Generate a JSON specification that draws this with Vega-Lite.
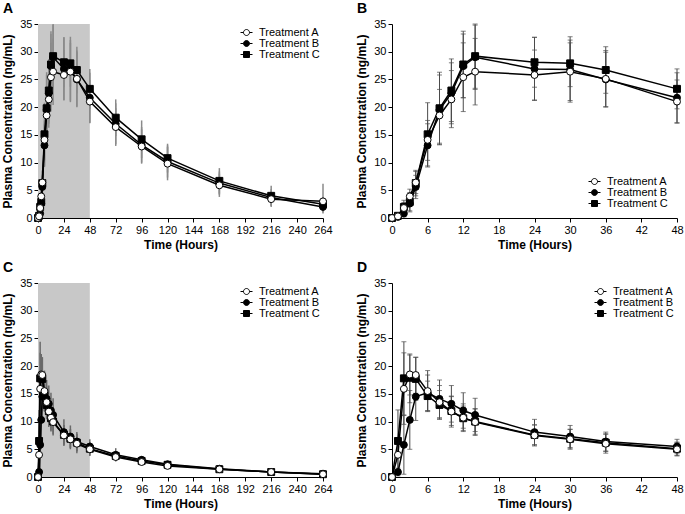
{
  "$schema": "https://vega.github.io/schema/vega-lite/v6.json",
  "padding": {"left": 1, "top": 2, "right": 2, "bottom": 2},
  "datasets": {
    "md": [
      {"trt":"Treatment C","t":0,"c":0,"lo":0,"hi":0},
      {"trt":"Treatment C","t":1,"c":0.4,"lo":0.1,"hi":0.7},
      {"trt":"Treatment C","t":2,"c":2.0,"lo":1.0,"hi":3.2},
      {"trt":"Treatment C","t":3,"c":2.9,"lo":1.3,"hi":4.6},
      {"trt":"Treatment C","t":4,"c":6.3,"lo":4.0,"hi":8.6},
      {"trt":"Treatment C","t":6,"c":15.1,"lo":9.4,"hi":20.8},
      {"trt":"Treatment C","t":8,"c":19.8,"lo":13.3,"hi":26.3},
      {"trt":"Treatment C","t":10,"c":23.0,"lo":17.4,"hi":28.7},
      {"trt":"Treatment C","t":12,"c":27.7,"lo":21.7,"hi":33.7},
      {"trt":"Treatment C","t":14,"c":29.2,"lo":23.4,"hi":35.0},
      {"trt":"Treatment C","t":24,"c":28.1,"lo":23.6,"hi":32.6},
      {"trt":"Treatment C","t":30,"c":27.9,"lo":23.7,"hi":32.1},
      {"trt":"Treatment C","t":36,"c":26.7,"lo":22.5,"hi":30.9},
      {"trt":"Treatment C","t":48,"c":23.3,"lo":19.7,"hi":26.9},
      {"trt":"Treatment C","t":72,"c":18.1,"lo":14.8,"hi":21.4},
      {"trt":"Treatment C","t":96,"c":14.2,"lo":10.8,"hi":17.6},
      {"trt":"Treatment C","t":120,"c":10.8,"lo":8.2,"hi":13.4},
      {"trt":"Treatment C","t":168,"c":6.7,"lo":4.4,"hi":9.0},
      {"trt":"Treatment C","t":216,"c":4.0,"lo":2.2,"hi":5.8},
      {"trt":"Treatment C","t":264,"c":2.5,"lo":1.2,"hi":3.8},
      {"trt":"Treatment B","t":0,"c":0,"lo":0,"hi":0},
      {"trt":"Treatment B","t":1,"c":0.2,"lo":0.0,"hi":0.4},
      {"trt":"Treatment B","t":2,"c":0.8,"lo":0.2,"hi":1.6},
      {"trt":"Treatment B","t":3,"c":2.6,"lo":1.1,"hi":4.1},
      {"trt":"Treatment B","t":4,"c":5.6,"lo":3.5,"hi":7.7},
      {"trt":"Treatment B","t":6,"c":13.1,"lo":9.2,"hi":17.0},
      {"trt":"Treatment B","t":8,"c":19.5,"lo":13.2,"hi":25.8},
      {"trt":"Treatment B","t":10,"c":22.5,"lo":17.0,"hi":28.0},
      {"trt":"Treatment B","t":12,"c":27.4,"lo":21.7,"hi":33.2},
      {"trt":"Treatment B","t":14,"c":29.0,"lo":23.2,"hi":34.8},
      {"trt":"Treatment B","t":24,"c":26.9,"lo":21.2,"hi":32.6},
      {"trt":"Treatment B","t":30,"c":26.8,"lo":20.9,"hi":32.7},
      {"trt":"Treatment B","t":36,"c":25.0,"lo":20.1,"hi":29.9},
      {"trt":"Treatment B","t":48,"c":21.7,"lo":17.2,"hi":26.2},
      {"trt":"Treatment B","t":72,"c":17.0,"lo":13.3,"hi":20.7},
      {"trt":"Treatment B","t":96,"c":13.2,"lo":10.0,"hi":16.4},
      {"trt":"Treatment B","t":120,"c":10.2,"lo":7.3,"hi":13.1},
      {"trt":"Treatment B","t":168,"c":6.3,"lo":4.2,"hi":8.4},
      {"trt":"Treatment B","t":216,"c":3.7,"lo":2.2,"hi":5.2},
      {"trt":"Treatment B","t":264,"c":2.0,"lo":1.0,"hi":3.0},
      {"trt":"Treatment A","t":0,"c":0,"lo":0,"hi":0},
      {"trt":"Treatment A","t":1,"c":0.3,"lo":0.1,"hi":0.5},
      {"trt":"Treatment A","t":2,"c":1.8,"lo":1.0,"hi":2.8},
      {"trt":"Treatment A","t":3,"c":3.9,"lo":2.6,"hi":5.2},
      {"trt":"Treatment A","t":4,"c":6.4,"lo":4.4,"hi":8.4},
      {"trt":"Treatment A","t":6,"c":14.1,"lo":10.4,"hi":17.6},
      {"trt":"Treatment A","t":8,"c":18.5,"lo":13.5,"hi":23.2},
      {"trt":"Treatment A","t":10,"c":21.4,"lo":16.3,"hi":26.6},
      {"trt":"Treatment A","t":12,"c":25.4,"lo":19.2,"hi":31.6},
      {"trt":"Treatment A","t":14,"c":26.4,"lo":20.4,"hi":32.4},
      {"trt":"Treatment A","t":24,"c":25.8,"lo":21.3,"hi":30.3},
      {"trt":"Treatment A","t":30,"c":26.4,"lo":21.2,"hi":31.6},
      {"trt":"Treatment A","t":36,"c":25.1,"lo":20.0,"hi":30.2},
      {"trt":"Treatment A","t":48,"c":21.0,"lo":17.1,"hi":24.9},
      {"trt":"Treatment A","t":72,"c":16.4,"lo":13.0,"hi":19.8},
      {"trt":"Treatment A","t":96,"c":12.9,"lo":9.8,"hi":16.0},
      {"trt":"Treatment A","t":120,"c":9.8,"lo":6.8,"hi":12.8},
      {"trt":"Treatment A","t":168,"c":5.9,"lo":3.8,"hi":8.0},
      {"trt":"Treatment A","t":216,"c":3.4,"lo":2.0,"hi":4.8},
      {"trt":"Treatment A","t":264,"c":3.0,"lo":0.8,"hi":6.2}
    ],
    "sd": [
      {"trt":"Treatment C","t":0,"c":0,"lo":0,"hi":0},
      {"trt":"Treatment C","t":1,"c":6.5,"lo":0.9,"hi":12.1},
      {"trt":"Treatment C","t":2,"c":17.8,"lo":11.2,"hi":24.4},
      {"trt":"Treatment C","t":3,"c":17.9,"lo":13.4,"hi":22.0},
      {"trt":"Treatment C","t":4,"c":17.7,"lo":13.8,"hi":21.6},
      {"trt":"Treatment C","t":6,"c":14.6,"lo":11.9,"hi":17.3},
      {"trt":"Treatment C","t":8,"c":13.0,"lo":10.4,"hi":15.6},
      {"trt":"Treatment C","t":10,"c":11.9,"lo":9.3,"hi":14.5},
      {"trt":"Treatment C","t":12,"c":10.6,"lo":8.4,"hi":12.8},
      {"trt":"Treatment C","t":14,"c":10.0,"lo":7.7,"hi":12.3},
      {"trt":"Treatment C","t":24,"c":7.6,"lo":5.8,"hi":9.4},
      {"trt":"Treatment C","t":30,"c":6.9,"lo":5.2,"hi":8.6},
      {"trt":"Treatment C","t":36,"c":6.2,"lo":4.6,"hi":7.8},
      {"trt":"Treatment C","t":48,"c":5.1,"lo":3.9,"hi":6.3},
      {"trt":"Treatment C","t":72,"c":3.8,"lo":3.0,"hi":4.6},
      {"trt":"Treatment C","t":96,"c":2.9,"lo":2.3,"hi":3.5},
      {"trt":"Treatment C","t":120,"c":2.2,"lo":1.7,"hi":2.7},
      {"trt":"Treatment C","t":168,"c":1.4,"lo":1.1,"hi":1.7},
      {"trt":"Treatment C","t":216,"c":0.9,"lo":0.7,"hi":1.1},
      {"trt":"Treatment C","t":264,"c":0.5,"lo":0.4,"hi":0.6},
      {"trt":"Treatment B","t":0,"c":0,"lo":0,"hi":0},
      {"trt":"Treatment B","t":1,"c":0.9,"lo":0.2,"hi":1.6},
      {"trt":"Treatment B","t":2,"c":5.8,"lo":0.5,"hi":11.1},
      {"trt":"Treatment B","t":3,"c":10.3,"lo":5.0,"hi":15.6},
      {"trt":"Treatment B","t":4,"c":14.5,"lo":10.2,"hi":18.8},
      {"trt":"Treatment B","t":6,"c":15.2,"lo":12.0,"hi":18.4},
      {"trt":"Treatment B","t":8,"c":14.1,"lo":10.7,"hi":17.5},
      {"trt":"Treatment B","t":10,"c":13.2,"lo":9.9,"hi":16.5},
      {"trt":"Treatment B","t":12,"c":12.0,"lo":8.8,"hi":15.2},
      {"trt":"Treatment B","t":14,"c":11.2,"lo":8.2,"hi":14.2},
      {"trt":"Treatment B","t":24,"c":8.1,"lo":5.8,"hi":10.4},
      {"trt":"Treatment B","t":30,"c":7.3,"lo":5.3,"hi":9.3},
      {"trt":"Treatment B","t":36,"c":6.4,"lo":4.7,"hi":8.1},
      {"trt":"Treatment B","t":48,"c":5.5,"lo":4.2,"hi":6.8},
      {"trt":"Treatment B","t":72,"c":4.0,"lo":3.2,"hi":5.2},
      {"trt":"Treatment B","t":96,"c":3.1,"lo":2.4,"hi":3.8},
      {"trt":"Treatment B","t":120,"c":2.3,"lo":1.8,"hi":2.8},
      {"trt":"Treatment B","t":168,"c":1.5,"lo":1.1,"hi":1.9},
      {"trt":"Treatment B","t":216,"c":0.9,"lo":0.7,"hi":1.1},
      {"trt":"Treatment B","t":264,"c":0.6,"lo":0.4,"hi":0.8},
      {"trt":"Treatment A","t":0,"c":0,"lo":0,"hi":0},
      {"trt":"Treatment A","t":1,"c":4.0,"lo":1.0,"hi":7.0},
      {"trt":"Treatment A","t":2,"c":15.9,"lo":9.5,"hi":22.4},
      {"trt":"Treatment A","t":3,"c":18.5,"lo":14.8,"hi":22.2},
      {"trt":"Treatment A","t":4,"c":18.4,"lo":15.1,"hi":21.6},
      {"trt":"Treatment A","t":6,"c":15.5,"lo":11.8,"hi":19.2},
      {"trt":"Treatment A","t":8,"c":13.5,"lo":10.5,"hi":16.5},
      {"trt":"Treatment A","t":10,"c":11.8,"lo":9.0,"hi":14.6},
      {"trt":"Treatment A","t":12,"c":10.7,"lo":8.2,"hi":13.2},
      {"trt":"Treatment A","t":14,"c":9.9,"lo":7.5,"hi":12.3},
      {"trt":"Treatment A","t":24,"c":7.5,"lo":5.6,"hi":9.4},
      {"trt":"Treatment A","t":30,"c":6.8,"lo":5.0,"hi":8.6},
      {"trt":"Treatment A","t":36,"c":6.0,"lo":4.3,"hi":7.7},
      {"trt":"Treatment A","t":48,"c":5.0,"lo":3.8,"hi":6.2},
      {"trt":"Treatment A","t":72,"c":3.6,"lo":2.8,"hi":4.4},
      {"trt":"Treatment A","t":96,"c":2.7,"lo":2.1,"hi":3.3},
      {"trt":"Treatment A","t":120,"c":2.0,"lo":1.6,"hi":2.4},
      {"trt":"Treatment A","t":168,"c":1.4,"lo":1.1,"hi":1.7},
      {"trt":"Treatment A","t":216,"c":0.9,"lo":0.7,"hi":1.1},
      {"trt":"Treatment A","t":264,"c":0.5,"lo":0.4,"hi":0.6}
    ]
  },
  "columns": 2,
  "spacing": {"row": 65, "column": 69},
  "bounds": "flush",
  "concat": [
    {
      "title": {"text": "A"},
      "width": 285, "height": 194,
      "data": {"name": "md"},
      "resolve": {"scale": {"shape": "independent", "fill": "independent"}},
      "layer": [
        {"data": {"values": [{}]}, "mark": {"type": "rect", "color": "#c8c8c8"},
         "encoding": {
           "x": {"datum": 0, "type": "quantitative", "scale": {"domain": [0, 264], "nice": false}, "axis": {"title": "Time (Hours)", "values": [0, 24, 48, 72, 96, 120, 144, 168, 192, 216, 240, 264]}},
           "x2": {"datum": 48},
           "y": {"datum": 0, "type": "quantitative", "scale": {"domain": [0, 35], "nice": false}, "axis": {"title": "Plasma Concentration (ng/mL)", "values": [0, 5, 10, 15, 20, 25, 30, 35]}},
           "y2": {"datum": 35}}},
        {"mark": {"type": "errorbar", "color": "#8a8a8a", "thickness": 1.5},
         "encoding": {
           "x": {"field": "t", "type": "quantitative", "scale": {"domain": [0, 264], "nice": false}, "axis": {"title": "Time (Hours)", "values": [0, 24, 48, 72, 96, 120, 144, 168, 192, 216, 240, 264]}},
           "y": {"field": "lo", "type": "quantitative", "scale": {"domain": [0, 35], "nice": false}, "axis": {"title": "Plasma Concentration (ng/mL)", "values": [0, 5, 10, 15, 20, 25, 30, 35]}},
           "y2": {"field": "hi"}}},
        {"mark": {"type": "line", "color": "black", "strokeWidth": 1.5},
         "encoding": {
           "x": {"field": "t", "type": "quantitative", "scale": {"domain": [0, 264], "nice": false}, "axis": {"title": "Time (Hours)", "values": [0, 24, 48, 72, 96, 120, 144, 168, 192, 216, 240, 264]}},
           "y": {"field": "c", "type": "quantitative", "scale": {"domain": [0, 35], "nice": false}, "axis": {"title": "Plasma Concentration (ng/mL)", "values": [0, 5, 10, 15, 20, 25, 30, 35]}},
           "detail": {"field": "trt"}}},
        {"mark": {"type": "point", "filled": true, "stroke": "black", "strokeWidth": 1, "size": 48, "opacity": 1},
         "encoding": {
           "x": {"field": "t", "type": "quantitative", "scale": {"domain": [0, 264], "nice": false}, "axis": {"title": "Time (Hours)", "values": [0, 24, 48, 72, 96, 120, 144, 168, 192, 216, 240, 264]}},
           "y": {"field": "c", "type": "quantitative", "scale": {"domain": [0, 35], "nice": false}, "axis": {"title": "Plasma Concentration (ng/mL)", "values": [0, 5, 10, 15, 20, 25, 30, 35]}},
           "shape": {"field": "trt", "scale": {"domain": ["Treatment A", "Treatment B", "Treatment C"], "range": ["circle", "circle", "square"]}, "legend": null},
           "fill": {"field": "trt", "scale": {"domain": ["Treatment A", "Treatment B", "Treatment C"], "range": ["white", "black", "black"]}, "legend": null}
         }},
        {"transform": [{"filter": "datum.t < 0"}],
         "mark": {"type": "point", "filled": true, "stroke": "black", "strokeWidth": 1, "opacity": 1},
         "encoding": {
           "shape": {"field": "trt", "scale": {"domain": ["Treatment A", "Treatment B", "Treatment C"], "range": ["M-1.5,0H-0.75M0.75,0H1.5M-0.75,0A0.75,0.75 0 1,0 0.75,0A0.75,0.75 0 1,0 -0.75,0Z", "M-1.5,0H-0.75M0.75,0H1.5M-0.75,0A0.75,0.75 0 1,0 0.75,0A0.75,0.75 0 1,0 -0.75,0Z", "M-1.5,0H-0.75M0.75,0H1.5M-0.75,-0.75H0.75V0.75H-0.75Z"]}, "legend": {"title": null, "orient": "top-right", "offset": 3}},
           "fill": {"field": "trt", "scale": {"domain": ["Treatment A", "Treatment B", "Treatment C"], "range": ["white", "black", "black"]}, "legend": {"title": null, "orient": "top-right", "offset": 3}}
         }}
      ]
    },
    {
      "title": {"text": "B"},
      "width": 285, "height": 194,
      "data": {"name": "md"},
      "transform": [{"filter": "datum.t <= 48"}],
      "resolve": {"scale": {"shape": "independent", "fill": "independent"}},
      "layer": [
        {"mark": {"type": "errorbar", "color": "#4a4a4a", "thickness": 1, "ticks": {"size": 5}},
         "encoding": {
           "x": {"field": "t", "type": "quantitative", "scale": {"domain": [0, 48], "nice": false}, "axis": {"title": "Time (Hours)", "values": [0, 6, 12, 18, 24, 30, 36, 42, 48]}},
           "y": {"field": "lo", "type": "quantitative", "scale": {"domain": [0, 35], "nice": false}, "axis": {"title": "Plasma Concentration (ng/mL)", "values": [0, 5, 10, 15, 20, 25, 30, 35]}},
           "y2": {"field": "hi"}}},
        {"mark": {"type": "line", "color": "black", "strokeWidth": 1.5},
         "encoding": {
           "x": {"field": "t", "type": "quantitative", "scale": {"domain": [0, 48], "nice": false}, "axis": {"title": "Time (Hours)", "values": [0, 6, 12, 18, 24, 30, 36, 42, 48]}},
           "y": {"field": "c", "type": "quantitative", "scale": {"domain": [0, 35], "nice": false}, "axis": {"title": "Plasma Concentration (ng/mL)", "values": [0, 5, 10, 15, 20, 25, 30, 35]}},
           "detail": {"field": "trt"}}},
        {"mark": {"type": "point", "filled": true, "stroke": "black", "strokeWidth": 1, "size": 48, "opacity": 1},
         "encoding": {
           "x": {"field": "t", "type": "quantitative", "scale": {"domain": [0, 48], "nice": false}, "axis": {"title": "Time (Hours)", "values": [0, 6, 12, 18, 24, 30, 36, 42, 48]}},
           "y": {"field": "c", "type": "quantitative", "scale": {"domain": [0, 35], "nice": false}, "axis": {"title": "Plasma Concentration (ng/mL)", "values": [0, 5, 10, 15, 20, 25, 30, 35]}},
           "shape": {"field": "trt", "scale": {"domain": ["Treatment A", "Treatment B", "Treatment C"], "range": ["circle", "circle", "square"]}, "legend": null},
           "fill": {"field": "trt", "scale": {"domain": ["Treatment A", "Treatment B", "Treatment C"], "range": ["white", "black", "black"]}, "legend": null}
         }},
        {"transform": [{"filter": "datum.t < 0"}],
         "mark": {"type": "point", "filled": true, "stroke": "black", "strokeWidth": 1, "opacity": 1},
         "encoding": {
           "shape": {"field": "trt", "scale": {"domain": ["Treatment A", "Treatment B", "Treatment C"], "range": ["M-1.5,0H-0.75M0.75,0H1.5M-0.75,0A0.75,0.75 0 1,0 0.75,0A0.75,0.75 0 1,0 -0.75,0Z", "M-1.5,0H-0.75M0.75,0H1.5M-0.75,0A0.75,0.75 0 1,0 0.75,0A0.75,0.75 0 1,0 -0.75,0Z", "M-1.5,0H-0.75M0.75,0H1.5M-0.75,-0.75H0.75V0.75H-0.75Z"]}, "legend": {"title": null, "orient": "bottom-right", "offset": 9}},
           "fill": {"field": "trt", "scale": {"domain": ["Treatment A", "Treatment B", "Treatment C"], "range": ["white", "black", "black"]}, "legend": {"title": null, "orient": "bottom-right", "offset": 9}}
         }}
      ]
    },
    {
      "title": {"text": "C"},
      "width": 285, "height": 194,
      "data": {"name": "sd"},
      "resolve": {"scale": {"shape": "independent", "fill": "independent"}},
      "layer": [
        {"data": {"values": [{}]}, "mark": {"type": "rect", "color": "#c8c8c8"},
         "encoding": {
           "x": {"datum": 0, "type": "quantitative", "scale": {"domain": [0, 264], "nice": false}, "axis": {"title": "Time (Hours)", "values": [0, 24, 48, 72, 96, 120, 144, 168, 192, 216, 240, 264]}},
           "x2": {"datum": 48},
           "y": {"datum": 0, "type": "quantitative", "scale": {"domain": [0, 35], "nice": false}, "axis": {"title": "Plasma Concentration (ng/mL)", "values": [0, 5, 10, 15, 20, 25, 30, 35]}},
           "y2": {"datum": 35}}},
        {"mark": {"type": "errorbar", "color": "#6a6a6a", "thickness": 1.5},
         "encoding": {
           "x": {"field": "t", "type": "quantitative", "scale": {"domain": [0, 264], "nice": false}, "axis": {"title": "Time (Hours)", "values": [0, 24, 48, 72, 96, 120, 144, 168, 192, 216, 240, 264]}},
           "y": {"field": "lo", "type": "quantitative", "scale": {"domain": [0, 35], "nice": false}, "axis": {"title": "Plasma Concentration (ng/mL)", "values": [0, 5, 10, 15, 20, 25, 30, 35]}},
           "y2": {"field": "hi"}}},
        {"mark": {"type": "line", "color": "black", "strokeWidth": 1.5},
         "encoding": {
           "x": {"field": "t", "type": "quantitative", "scale": {"domain": [0, 264], "nice": false}, "axis": {"title": "Time (Hours)", "values": [0, 24, 48, 72, 96, 120, 144, 168, 192, 216, 240, 264]}},
           "y": {"field": "c", "type": "quantitative", "scale": {"domain": [0, 35], "nice": false}, "axis": {"title": "Plasma Concentration (ng/mL)", "values": [0, 5, 10, 15, 20, 25, 30, 35]}},
           "detail": {"field": "trt"}}},
        {"mark": {"type": "point", "filled": true, "stroke": "black", "strokeWidth": 1, "size": 48, "opacity": 1},
         "encoding": {
           "x": {"field": "t", "type": "quantitative", "scale": {"domain": [0, 264], "nice": false}, "axis": {"title": "Time (Hours)", "values": [0, 24, 48, 72, 96, 120, 144, 168, 192, 216, 240, 264]}},
           "y": {"field": "c", "type": "quantitative", "scale": {"domain": [0, 35], "nice": false}, "axis": {"title": "Plasma Concentration (ng/mL)", "values": [0, 5, 10, 15, 20, 25, 30, 35]}},
           "shape": {"field": "trt", "scale": {"domain": ["Treatment A", "Treatment B", "Treatment C"], "range": ["circle", "circle", "square"]}, "legend": null},
           "fill": {"field": "trt", "scale": {"domain": ["Treatment A", "Treatment B", "Treatment C"], "range": ["white", "black", "black"]}, "legend": null}
         }},
        {"transform": [{"filter": "datum.t < 0"}],
         "mark": {"type": "point", "filled": true, "stroke": "black", "strokeWidth": 1, "opacity": 1},
         "encoding": {
           "shape": {"field": "trt", "scale": {"domain": ["Treatment A", "Treatment B", "Treatment C"], "range": ["M-1.5,0H-0.75M0.75,0H1.5M-0.75,0A0.75,0.75 0 1,0 0.75,0A0.75,0.75 0 1,0 -0.75,0Z", "M-1.5,0H-0.75M0.75,0H1.5M-0.75,0A0.75,0.75 0 1,0 0.75,0A0.75,0.75 0 1,0 -0.75,0Z", "M-1.5,0H-0.75M0.75,0H1.5M-0.75,-0.75H0.75V0.75H-0.75Z"]}, "legend": {"title": null, "orient": "top-right", "offset": 3}},
           "fill": {"field": "trt", "scale": {"domain": ["Treatment A", "Treatment B", "Treatment C"], "range": ["white", "black", "black"]}, "legend": {"title": null, "orient": "top-right", "offset": 3}}
         }}
      ]
    },
    {
      "title": {"text": "D"},
      "width": 285, "height": 194,
      "data": {"name": "sd"},
      "transform": [{"filter": "datum.t <= 48"}],
      "resolve": {"scale": {"shape": "independent", "fill": "independent"}},
      "layer": [
        {"mark": {"type": "errorbar", "color": "#4a4a4a", "thickness": 1, "ticks": {"size": 5}},
         "encoding": {
           "x": {"field": "t", "type": "quantitative", "scale": {"domain": [0, 48], "nice": false}, "axis": {"title": "Time (Hours)", "values": [0, 6, 12, 18, 24, 30, 36, 42, 48]}},
           "y": {"field": "lo", "type": "quantitative", "scale": {"domain": [0, 35], "nice": false}, "axis": {"title": "Plasma Concentration (ng/mL)", "values": [0, 5, 10, 15, 20, 25, 30, 35]}},
           "y2": {"field": "hi"}}},
        {"mark": {"type": "line", "color": "black", "strokeWidth": 1.5},
         "encoding": {
           "x": {"field": "t", "type": "quantitative", "scale": {"domain": [0, 48], "nice": false}, "axis": {"title": "Time (Hours)", "values": [0, 6, 12, 18, 24, 30, 36, 42, 48]}},
           "y": {"field": "c", "type": "quantitative", "scale": {"domain": [0, 35], "nice": false}, "axis": {"title": "Plasma Concentration (ng/mL)", "values": [0, 5, 10, 15, 20, 25, 30, 35]}},
           "detail": {"field": "trt"}}},
        {"mark": {"type": "point", "filled": true, "stroke": "black", "strokeWidth": 1, "size": 48, "opacity": 1},
         "encoding": {
           "x": {"field": "t", "type": "quantitative", "scale": {"domain": [0, 48], "nice": false}, "axis": {"title": "Time (Hours)", "values": [0, 6, 12, 18, 24, 30, 36, 42, 48]}},
           "y": {"field": "c", "type": "quantitative", "scale": {"domain": [0, 35], "nice": false}, "axis": {"title": "Plasma Concentration (ng/mL)", "values": [0, 5, 10, 15, 20, 25, 30, 35]}},
           "shape": {"field": "trt", "scale": {"domain": ["Treatment A", "Treatment B", "Treatment C"], "range": ["circle", "circle", "square"]}, "legend": null},
           "fill": {"field": "trt", "scale": {"domain": ["Treatment A", "Treatment B", "Treatment C"], "range": ["white", "black", "black"]}, "legend": null}
         }},
        {"transform": [{"filter": "datum.t < 0"}],
         "mark": {"type": "point", "filled": true, "stroke": "black", "strokeWidth": 1, "opacity": 1},
         "encoding": {
           "shape": {"field": "trt", "scale": {"domain": ["Treatment A", "Treatment B", "Treatment C"], "range": ["M-1.5,0H-0.75M0.75,0H1.5M-0.75,0A0.75,0.75 0 1,0 0.75,0A0.75,0.75 0 1,0 -0.75,0Z", "M-1.5,0H-0.75M0.75,0H1.5M-0.75,0A0.75,0.75 0 1,0 0.75,0A0.75,0.75 0 1,0 -0.75,0Z", "M-1.5,0H-0.75M0.75,0H1.5M-0.75,-0.75H0.75V0.75H-0.75Z"]}, "legend": {"title": null, "orient": "top-right", "offset": 3}},
           "fill": {"field": "trt", "scale": {"domain": ["Treatment A", "Treatment B", "Treatment C"], "range": ["white", "black", "black"]}, "legend": {"title": null, "orient": "top-right", "offset": 3}}
         }}
      ]
    }
  ],
  "config": {
    "view": {"stroke": null},
    "font": "Liberation Sans",
    "axis": {"grid": false, "domainColor": "black", "tickColor": "black", "tickSize": 4, "labelColor": "black", "labelFontSize": 11, "labelFont": "Liberation Sans", "titleFont": "Liberation Sans", "titleFontSize": 12, "titleFontWeight": "bold", "titleColor": "black", "labelPadding": 2, "labelOverlap": false, "labelFlush": false},
    "axisY": {"titlePadding": 5},
    "axisX": {"titlePadding": 4},
    "legend": {"labelFont": "Liberation Sans", "labelFontSize": 11, "labelColor": "black", "rowPadding": -1.5, "labelOffset": 7, "padding": 0, "symbolSize": 64, "symbolStrokeWidth": 1},
    "title": {"anchor": "start", "frame": "group", "fontSize": 14, "fontWeight": "bold", "color": "black", "font": "Liberation Sans", "dx": -35, "offset": 2}
  }
}
